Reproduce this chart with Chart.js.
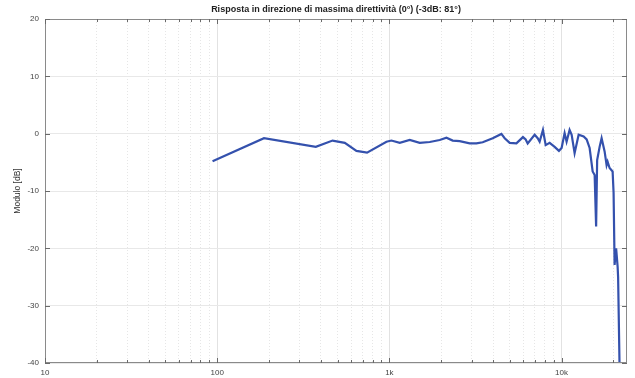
<!DOCTYPE html>
<html>
<head>
<meta charset="utf-8">
<script src="https://cdn.jsdelivr.net/npm/chart.js@4.4.1/dist/chart.umd.min.js"></script>
<style>
  html, body { margin: 0; padding: 0; background: #fff; }
</style>
</head>
<body>
<canvas id="chart" width="635" height="378"></canvas>
<script>
// values
const freqHz = [
  94, 187, 374, 468, 551, 644, 742, 962, 1028, 1149, 1313, 1501, 1716, 1961,
  2145, 2333, 2562, 2929, 3203, 3485, 3983, 4474, 4676, 5000, 5470, 5970,
  6190, 6360, 6980, 7270, 7460, 7800, 8090, 8530, 9120, 9660, 10010, 10420,
  10700, 11140, 11450, 11910, 12570, 13440, 13990, 14560, 15160, 15570,
  15880, 16100, 16640, 17090, 17790, 18270, 18520, 19020, 19800, 20060,
  20330, 20750, 21170, 21310, 21740
];
const moduloDb = [
  -4.8, -0.8, -2.3, -1.2, -1.6, -3.0, -3.3, -1.4, -1.2, -1.6, -1.1, -1.6, -1.45, -1.1,
  -0.7, -1.2, -1.3, -1.7, -1.7, -1.5, -0.8, -0.05, -0.8, -1.6, -1.7, -0.6,
  -1.0, -1.7, -0.2, -0.8, -1.4, 0.65, -2.0, -1.6, -2.3, -3.0, -2.5, 0.1,
  -1.4, 0.65, -0.2, -3.4, -0.2, -0.5, -1.0, -2.5, -6.6, -7.2,
  -16.2, -4.6, -2.3, -0.8, -3.1, -5.5, -4.9, -6.0, -6.6, -10.3,
  -22.9, -20.0, -23.2, -25, -41
];

const xTickValues = [
  10, 20, 30, 40, 50, 60, 70, 80, 90,
  100, 200, 300, 400, 500, 600, 700, 800, 900,
  1000, 2000, 3000, 4000, 5000, 6000, 7000, 8000, 9000,
  10000, 20000
];
const xTickLabels = { 10: "10", 100: "100", 1000: "1k", 10000: "10k" };
const yTickValues = [-40, -30, -20, -10, 0, 10, 20];

const TITLE = "Risposta in direzione di massima direttività (0°) (-3dB: 81°)";
const FONT = "'Liberation Sans', Arial, Helvetica, sans-serif";

// matlab-like box with inward ticks, title centred over the axes
const axesBox = {
  id: "axesBox",
  afterDraw(chart) {
    const { ctx, chartArea: a, scales: { x, y } } = chart;
    ctx.save();
    ctx.strokeStyle = "#8a8a8a";
    ctx.lineWidth = 1;
    ctx.strokeRect(a.left + 0.5, a.top + 0.5, a.right - a.left - 1, a.bottom - a.top - 1);
    ctx.strokeStyle = "#6a6a6a";
    ctx.beginPath();
    for (const v of xTickValues) {
      const px = Math.round(x.getPixelForValue(v)) + 0.5;
      const len = xTickLabels[v] ? 5 : 3;
      ctx.moveTo(px, a.bottom);
      ctx.lineTo(px, a.bottom - len);
      ctx.moveTo(px, a.top);
      ctx.lineTo(px, a.top + len);
    }
    for (const v of yTickValues) {
      const py = Math.round(y.getPixelForValue(v)) + 0.5;
      ctx.moveTo(a.left, py);
      ctx.lineTo(a.left + 5, py);
      ctx.moveTo(a.right, py);
      ctx.lineTo(a.right - 5, py);
    }
    ctx.stroke();

    ctx.fillStyle = "#222";
    ctx.font = "bold 9px " + FONT;
    ctx.textAlign = "center";
    ctx.textBaseline = "middle";
    ctx.fillText(TITLE, (a.left + a.right) / 2, 10);
    ctx.restore();
  }
};

new Chart(document.getElementById("chart"), {
  type: "line",
  data: {
    datasets: [{
      data: freqHz.map((f, i) => ({ x: f, y: moduloDb[i] })),
      borderColor: "#3451ad",
      borderWidth: 2.2,
      pointRadius: 0,
      tension: 0,
      fill: false
    }]
  },
  options: {
    responsive: false,
    animation: false,
    layout: { padding: { left: 0, right: 8, top: 19, bottom: 0 } },
    plugins: {
      legend: { display: false },
      tooltip: { enabled: false },
      title: { display: false }
    },
    scales: {
      x: {
        type: "logarithmic",
        min: 10,
        max: 24000,
        afterBuildTicks: (s) => { s.ticks = xTickValues.map(v => ({ value: v })); },
        afterFit: (s) => { s.height = 15; },
        border: {
          display: false,
          dash: (c) => (xTickLabels[c.tick && c.tick.value] ? [] : [1, 2])
        },
        grid: {
          drawTicks: false,
          color: (c) => (xTickLabels[c.tick && c.tick.value] ? "#e2e2e2" : "#e6e6e6")
        },
        ticks: {
          autoSkip: false,
          maxRotation: 0,
          padding: 5,
          color: "#444",
          font: { family: FONT, size: 8 },
          callback: (v) => xTickLabels[v] || ""
        }
      },
      y: {
        min: -40,
        max: 20,
        afterBuildTicks: (s) => { s.ticks = yTickValues.map(v => ({ value: v })); },
        afterFit: (s) => { s.width = 45; },
        border: { display: false },
        grid: { drawTicks: false, color: "#e8e8e8" },
        ticks: {
          padding: 6,
          color: "#444",
          font: { family: FONT, size: 8 }
        },
        title: {
          display: true,
          text: "Modulo [dB]",
          color: "#333",
          font: { family: FONT, size: 8.5 },
          padding: { top: 13, bottom: 0 }
        }
      }
    }
  },
  plugins: [axesBox]
});
</script>
</body>
</html>
